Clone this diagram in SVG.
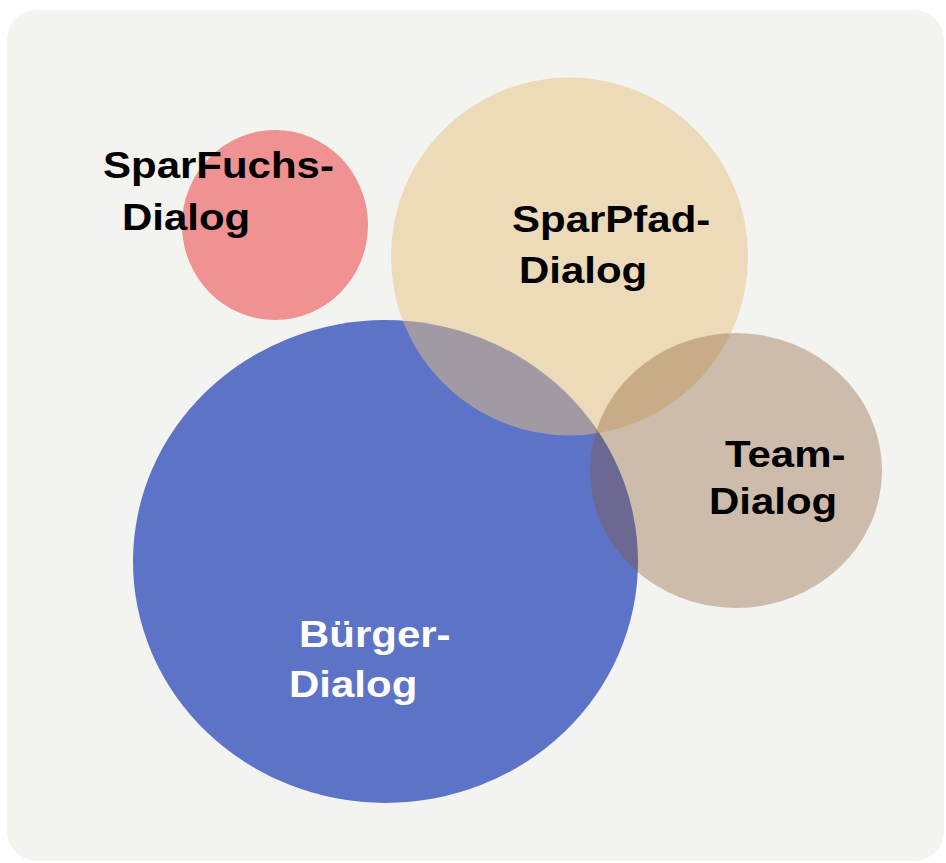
<svg xmlns="http://www.w3.org/2000/svg" width="946" height="863" viewBox="0 0 946 863">
  <style>
    .lbl { font-family: "Liberation Sans", Arial, sans-serif; font-weight: bold; font-size: 42px; }
    .dark { fill: #000000; }
    .light { fill: #ffffff; }
  </style>
  <rect x="0" y="0" width="946" height="863" fill="#ffffff"/>
  <rect id="panel" x="7" y="10" width="937" height="851" rx="30" ry="30" fill="#f3f3ef"/>
  <g id="connectors"></g>
  <g id="buerger">
    <ellipse cx="385.5" cy="561.5" rx="252.5" ry="241.5" fill="#5d73c8"/>
  </g>
  <g id="sparfuchs">
    <ellipse cx="275" cy="225" rx="93" ry="95" fill="#f09292"/>
  </g>
  <g id="sparpfad">
    <ellipse cx="569.5" cy="256.5" rx="178.5" ry="179" fill="#e5c181" fill-opacity="0.5"/>
  </g>
  <g id="team">
    <ellipse cx="736" cy="470.5" rx="146" ry="137.5" fill="#86562e" fill-opacity="0.35"/>
  </g>
  <g id="labels">
    <g transform="translate(0,178) scale(1,0.9)"><text class="lbl dark" x="103" y="0">SparFuchs-</text></g>
    <g transform="translate(0,230) scale(1,0.9)"><text class="lbl dark" x="122" y="0">Dialog</text></g>
    <g transform="translate(0,232) scale(1,0.9)"><text class="lbl dark" x="512" y="0">SparPfad-</text></g>
    <g transform="translate(0,283) scale(1,0.9)"><text class="lbl dark" x="519" y="0">Dialog</text></g>
    <g transform="translate(0,467) scale(1,0.9)"><text class="lbl dark" x="725" y="0">Team-</text></g>
    <g transform="translate(0,514) scale(1,0.9)"><text class="lbl dark" x="709" y="0">Dialog</text></g>
    <g transform="translate(0,647) scale(1,0.9)"><text class="lbl light" x="299" y="0">Bürger-</text></g>
    <g transform="translate(0,697) scale(1,0.9)"><text class="lbl light" x="289" y="0">Dialog</text></g>
  </g>
</svg>
